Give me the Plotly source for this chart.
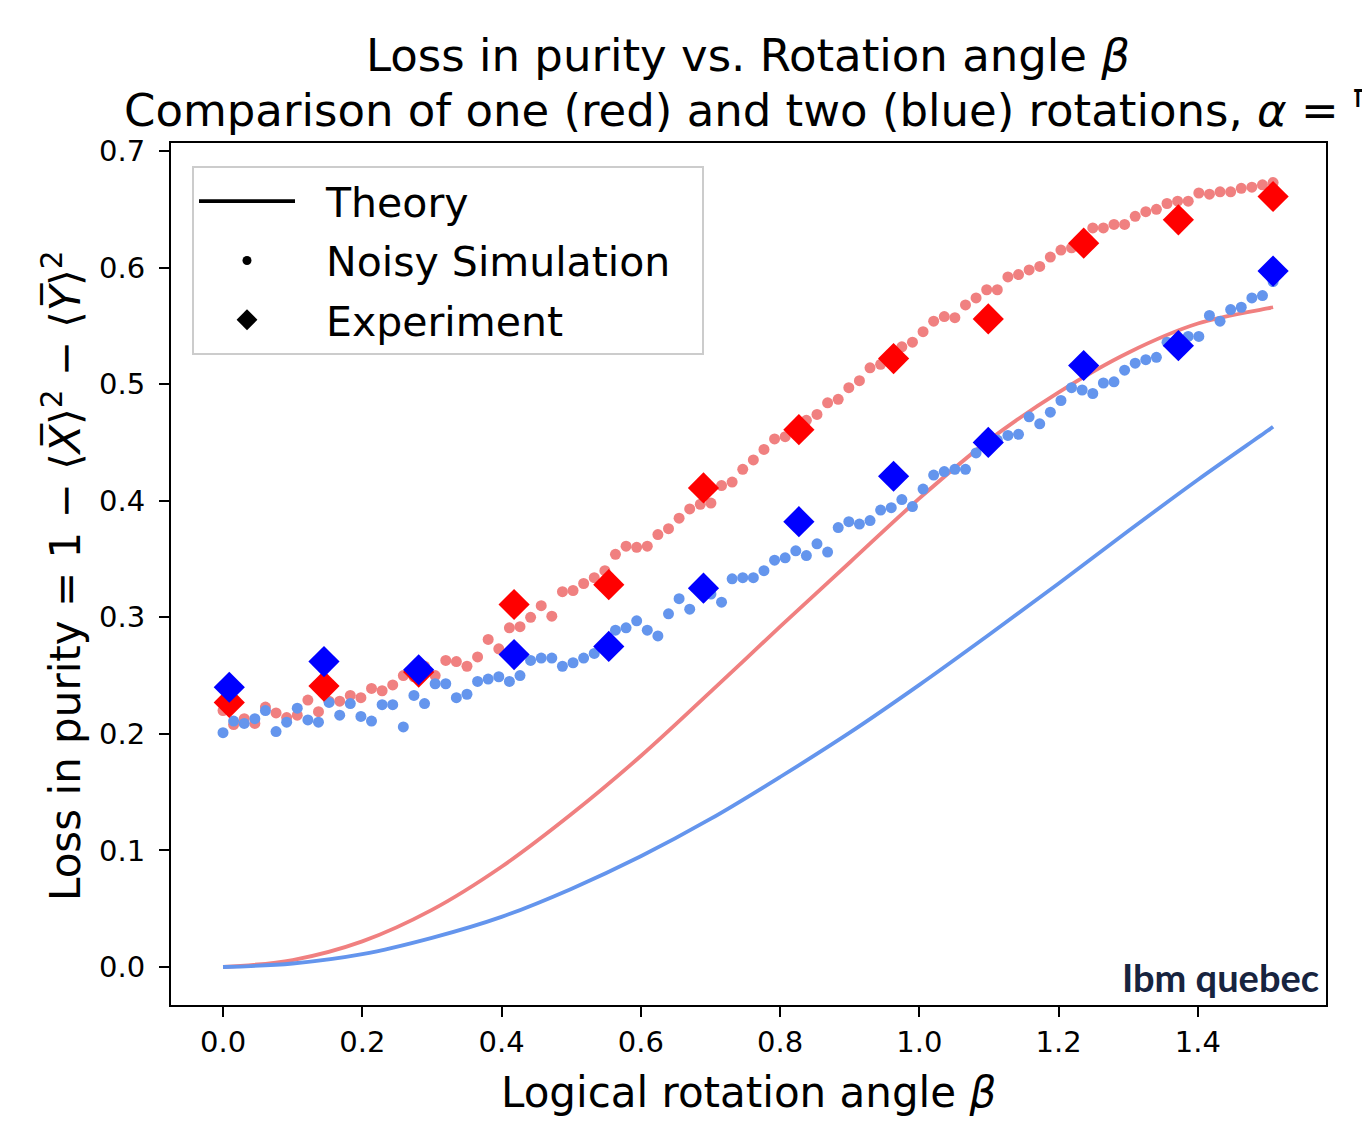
import numpy as np
import plotly.graph_objects as go

# ---------------- data ----------------
BETA_THEORY = [0.0, 0.1, 0.2, 0.3, 0.4, 0.5, 0.6, 0.7, 0.8, 0.9, 1.0, 1.1, 1.2, 1.3, 1.4, 1.5, 1.508]
THEORY_ONE = [0.000, 0.006, 0.022, 0.049, 0.086, 0.131, 0.181, 0.236, 0.292, 0.347, 0.402,
              0.452, 0.493, 0.527, 0.552, 0.565, 0.566]
THEORY_TWO = [0.000, 0.003, 0.011, 0.025, 0.043, 0.067, 0.095, 0.127, 0.163, 0.201, 0.242,
              0.285, 0.329, 0.374, 0.418, 0.460, 0.4635]

BETA_SIM = np.linspace(0.0, 1.508, 100)
SIM_ONE = [0.220, 0.208, 0.213, 0.209, 0.223, 0.218, 0.214, 0.216, 0.229, 0.219,
           0.228, 0.228, 0.233, 0.231, 0.239, 0.237, 0.242, 0.250, 0.249, 0.258,
           0.250, 0.263, 0.262, 0.258, 0.266, 0.281, 0.273, 0.291, 0.292, 0.300,
           0.310, 0.301, 0.322, 0.323, 0.329, 0.334, 0.340, 0.354, 0.361, 0.360,
           0.361, 0.371, 0.376, 0.385, 0.393, 0.397, 0.398, 0.413, 0.416, 0.427,
           0.435, 0.444, 0.453, 0.455, 0.462, 0.469, 0.474, 0.484, 0.487, 0.497,
           0.503, 0.514, 0.517, 0.523, 0.532, 0.536, 0.545, 0.554, 0.558, 0.557,
           0.568, 0.574, 0.581, 0.581, 0.592, 0.594, 0.598, 0.601, 0.609, 0.615,
           0.617, 0.621, 0.634, 0.634, 0.637, 0.637, 0.644, 0.648, 0.650, 0.655,
           0.657, 0.657, 0.664, 0.663, 0.665, 0.665, 0.668, 0.669, 0.671, 0.673]
SIM_TWO = [0.201, 0.211, 0.209, 0.213, 0.220, 0.202, 0.210, 0.222, 0.212, 0.210,
           0.227, 0.216, 0.226, 0.215, 0.211, 0.225, 0.225, 0.206, 0.233, 0.226,
           0.243, 0.243, 0.231, 0.234, 0.245, 0.247, 0.249, 0.245, 0.250, 0.263,
           0.265, 0.265, 0.258, 0.261, 0.265, 0.269, 0.276, 0.289, 0.291, 0.297,
           0.289, 0.284, 0.303, 0.316, 0.307, 0.322, 0.320, 0.313, 0.333, 0.334,
           0.334, 0.340, 0.349, 0.351, 0.357, 0.353, 0.363, 0.356, 0.377, 0.382,
           0.380, 0.383, 0.392, 0.394, 0.401, 0.395, 0.410, 0.422, 0.425, 0.427,
           0.427, 0.441, 0.447, 0.452, 0.456, 0.457, 0.472, 0.466, 0.476, 0.486,
           0.497, 0.495, 0.492, 0.501, 0.502, 0.512, 0.518, 0.521, 0.523, 0.536,
           0.539, 0.541, 0.541, 0.559, 0.554, 0.564, 0.566, 0.574, 0.576, 0.588]

BETA_EXP = [0.009, 0.145, 0.281, 0.418, 0.554, 0.690, 0.827, 0.963, 1.099, 1.236, 1.372, 1.508]
EXP_ONE = [0.227, 0.241, 0.253, 0.311, 0.328, 0.411, 0.461, 0.522, 0.556, 0.621, 0.641, 0.661]
EXP_TWO = [0.240, 0.262, 0.255, 0.268, 0.275, 0.325, 0.382, 0.421, 0.450, 0.516, 0.533, 0.597]

X_TICKS = [0.0, 0.2, 0.4, 0.6, 0.8, 1.0, 1.2, 1.4]
Y_TICKS = [0.0, 0.1, 0.2, 0.3, 0.4, 0.5, 0.6, 0.7]

# ---------------- styles ----------------
RED_LIGHT = "#F08080"
BLUE_LIGHT = "#6495ED"
RED = "#FF0000"
BLUE = "#0000FF"
FONT = "DejaVu Sans"

OFF = 8  # page body margin
W, H = 1370 - OFF, 1126 - OFF
L, R, T, B = 171 - OFF, 44, 143 - OFF, 121
PW, PH = W - L - R, H - T - B


def px_x(p):
    return (p - OFF - L) / PW


def px_y(p):
    return (H - B - (p - OFF)) / PH


fig = go.Figure()

fig.add_trace(go.Scatter(x=BETA_THEORY, y=THEORY_ONE, mode="lines",
                         line=dict(color=RED_LIGHT, width=3.8, shape="spline"),
                         showlegend=False, hoverinfo="skip"))
fig.add_trace(go.Scatter(x=BETA_THEORY, y=THEORY_TWO, mode="lines",
                         line=dict(color=BLUE_LIGHT, width=3.8, shape="spline"),
                         showlegend=False, hoverinfo="skip"))
fig.add_trace(go.Scatter(x=BETA_SIM, y=SIM_ONE, mode="markers",
                         marker=dict(color=RED_LIGHT, size=11, line=dict(width=0)), showlegend=False))
fig.add_trace(go.Scatter(x=BETA_SIM, y=SIM_TWO, mode="markers",
                         marker=dict(color=BLUE_LIGHT, size=11, line=dict(width=0)), showlegend=False))
fig.add_trace(go.Scatter(x=BETA_EXP, y=EXP_ONE, mode="markers",
                         marker=dict(color=RED, size=24, symbol="diamond", line=dict(width=0)), showlegend=False))
fig.add_trace(go.Scatter(x=BETA_EXP, y=EXP_TWO, mode="markers",
                         marker=dict(color=BLUE, size=24, symbol="diamond", line=dict(width=0)), showlegend=False))

# legend proxies
fig.add_trace(go.Scatter(x=[None], y=[None], mode="lines", name="  Theory",
                         line=dict(color="black", width=3.8), legendgroup="a"))
fig.add_trace(go.Scatter(x=[None], y=[None], mode="markers", name="  Noisy Simulation\u00a0\u00a0",
                         marker=dict(color="black", size=9), legendgroup="b"))
fig.add_trace(go.Scatter(x=[None], y=[None], mode="markers", name="  Experiment",
                         marker=dict(color="black", size=16, symbol="diamond"), legendgroup="c"))

axis_common = dict(showline=True, linecolor="black", linewidth=2, mirror=True, ticks="outside",
                   ticklen=10, tickwidth=2, tickcolor="black", showgrid=False, zeroline=False,
                   tickfont=dict(family=FONT, size=29, color="black"))

fig.update_layout(
    width=W, height=H,
    margin=dict(l=L, r=R, t=T, b=B, autoexpand=False),
    paper_bgcolor="white", plot_bgcolor="white",
    xaxis=dict(range=[-0.0747, 1.584], tickvals=X_TICKS,
               ticktext=[f"{v:.1f}" for v in X_TICKS], **axis_common),
    yaxis=dict(range=[-0.0326, 0.7069], tickvals=Y_TICKS,
               ticktext=[f"{v:.1f}" for v in Y_TICKS], ticklabelstandoff=8, **axis_common),
    legend=dict(x=px_x(192), y=px_y(166), xanchor="left", yanchor="top",
                font=dict(family=FONT, size=41, color="black"),
                bgcolor="rgba(255,255,255,0.8)", bordercolor="#cccccc", borderwidth=2,
                itemwidth=96, tracegroupgap=3, traceorder="grouped"),
    font=dict(family=FONT, color="black"),
)

ann = [
    dict(text="Loss in purity vs. Rotation angle <i>β</i>", x=px_x(748), y=px_y(55),
         xanchor="center", yanchor="middle", font=dict(size=45)),
    dict(text="Comparison of one (red) and two (blue) rotations, <i>α</i> = <sup>π</sup>⁄<sub>3</sub>",
         x=px_x(122), y=px_y(110), xanchor="left", yanchor="middle", font=dict(size=45)),
    dict(text="Logical rotation angle <i>β</i>", x=px_x(748), y=px_y(1092),
         xanchor="center", yanchor="middle", font=dict(size=42)),
    dict(text="Loss in purity = 1 − ⟨<i>X̅</i>⟩<sup>2</sup> − ⟨<i>Y̅</i>⟩<sup>2</sup>",
         x=px_x(62), y=px_y(576), xanchor="center", yanchor="middle", textangle=-90, font=dict(size=42)),
    dict(text="<b>Ibm quebec</b>", x=px_x(1321), y=px_y(977), xanchor="right", yanchor="middle",
         font=dict(family="Lato", size=38, color="#17243f")),
]
for a in ann:
    a.update(xref="paper", yref="paper", showarrow=False)
    a["font"] = dict(family=a["font"].get("family", FONT), size=a["font"]["size"],
                     color=a["font"].get("color", "black"))
fig.update_layout(annotations=ann)

fig.write_html("out.html")
